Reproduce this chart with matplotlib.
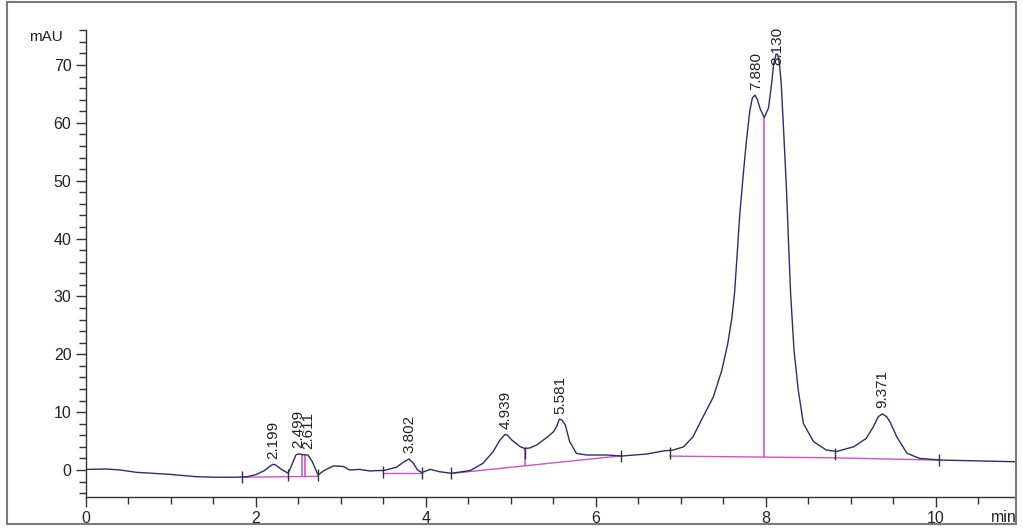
import numpy as np
import matplotlib
matplotlib.use("Agg")
from matplotlib import pyplot as plt
from matplotlib.patches import Rectangle
from matplotlib.ticker import MultipleLocator

# chromatogram trace (min, mAU)
rt = [0.00, 0.24, 0.40, 0.59, 0.98, 1.29, 1.50, 1.76, 1.90, 2.00, 2.10, 2.16,
      2.20, 2.24, 2.30, 2.38, 2.43, 2.47, 2.50, 2.55, 2.61, 2.66, 2.73, 2.80,
      2.91, 3.03, 3.10, 3.22, 3.34, 3.44, 3.50, 3.65, 3.74, 3.80, 3.85, 3.90,
      3.95, 4.05, 4.16, 4.30, 4.52, 4.67, 4.79, 4.87, 4.93, 4.96, 5.01, 5.11,
      5.16, 5.22, 5.30, 5.42, 5.50, 5.54, 5.57, 5.60, 5.64, 5.69, 5.77, 5.89,
      6.13, 6.30, 6.60, 6.79, 6.91, 7.03, 7.14, 7.26, 7.38, 7.48, 7.55, 7.60,
      7.63, 7.66, 7.69, 7.73, 7.77, 7.81, 7.84, 7.87, 7.90, 7.93, 7.98, 8.03,
      8.07, 8.09, 8.12, 8.14, 8.16, 8.18, 8.21, 8.24, 8.265, 8.29, 8.33, 8.38,
      8.44, 8.56, 8.71, 8.83, 9.03, 9.18, 9.26, 9.32, 9.37, 9.42, 9.46, 9.54,
      9.66, 9.81, 10.05, 10.40, 10.93]
mau = [0.10, 0.17, 0.00, -0.40, -0.75, -1.15, -1.25, -1.26, -1.15, -0.80, -0.10, 0.60,
       1.00, 0.80, 0.10, -0.57, 1.20, 2.60, 2.78, 2.65, 2.60, 1.50, -0.86, -0.10,
       0.70, 0.60, 0.00, 0.10, -0.17, -0.10, -0.10, 0.46, 1.40, 1.90, 1.20, 0.00,
       -0.45, 0.11, -0.30, -0.57, -0.10, 1.15, 3.16, 5.17, 6.15, 6.00, 5.17, 4.02,
       3.73, 3.80, 4.30, 5.60, 6.60, 7.60, 8.80, 8.60, 7.76, 4.90, 2.87, 2.59,
       2.59, 2.41, 2.76, 3.28, 3.45, 4.00, 5.70, 9.20, 12.6, 17.2, 21.8, 26.4,
       30.5, 37.0, 43.8, 50.6, 56.9, 62.1, 64.3, 64.8, 64.0, 62.5, 60.9, 62.6,
       67.2, 70.1, 71.9, 71.8, 70.0, 66.7, 58.0, 49.0, 39.5, 30.5, 20.7, 13.8,
       8.05, 4.90, 3.45, 3.20, 4.00, 5.46, 7.40, 9.20, 9.70, 9.20, 8.30, 5.70,
       2.87, 2.00, 1.72, 1.60, 1.43]

# integration events
base_t0 = [1.84, 3.49, 4.30, 6.87, 8.81]
base_y0 = [-1.25, -0.55, -0.60, 2.40, 2.10]
base_t1 = [2.73, 3.95, 6.30, 8.81, 10.04]
base_y1 = [-1.10, -0.55, 2.45, 2.10, 1.70]
drop_t = [2.54, 2.58, 5.16, 7.98]
drop_top = [2.70, 2.62, 3.73, 60.9]
drop_bot = [-1.20, -1.18, 0.71, 2.24]
mark_t = [1.84, 2.38, 2.73, 3.49, 3.95, 4.30, 5.16, 6.30, 6.87, 8.81, 10.04]
mark_y = [-1.2, -0.9, -0.95, -0.3, -0.5, -0.6, 2.9, 2.5, 3.0, 2.7, 1.7]

peak_rt = [2.199, 2.499, 2.611, 3.802, 4.939, 5.581, 7.880, 8.130, 9.371]
peak_h = [1.0, 2.8, 2.6, 1.9, 6.15, 8.8, 64.8, 71.9, 9.7]
peak_lbl = ["2.199", "2.499", "2.611", "3.802", "4.939", "5.581", "7.880", "8.130", "9.371"]

plt.rcParams['font.family'] = ['Liberation Sans', 'DejaVu Sans']

W, H = 1023, 530
fig = plt.figure(figsize=(W / 100, H / 100), dpi=100)
ax = fig.add_axes([86 / W, 1 - 497 / H, (1015 - 86) / W, (497 - 30) / H])

ymin, ymax = -4.67, 76.05
ax.set_xlim(0, 10.93)
ax.set_ylim(ymin, ymax)

ax.plot(rt, mau, color='#2c2c6e', lw=1.0, zorder=3)

pink = '#cc55cc'
for t0, y0, t1, y1 in zip(base_t0, base_y0, base_t1, base_y1):
    ax.plot([t0, t1], [y0, y1], color=pink, lw=1.0, zorder=2)
ax.vlines(drop_t, drop_bot, drop_top, color=pink, lw=1.2, zorder=2)
ax.plot(mark_t, mark_y, ls='none', marker='|', ms=9, mew=1.0, color='#333333', zorder=4)

for t, h, s in zip(peak_rt, peak_h, peak_lbl):
    if h + 7.5 > ymax:
        ax.text(t, ymax + 0.5, s, rotation=90, ha='center', va='top',
                fontsize=11, color='#222222', zorder=5)
    else:
        ax.annotate(s, (t, h), xytext=(0, 4), textcoords='offset points',
                    rotation=90, ha='center', va='bottom', fontsize=11,
                    color='#222222', zorder=5)

for side in ['top', 'right']:
    ax.spines[side].set_visible(False)
for side in ['left', 'bottom']:
    ax.spines[side].set_color('#333333')
    ax.spines[side].set_linewidth(1.0)

ax.xaxis.set_major_locator(MultipleLocator(2))
ax.xaxis.set_minor_locator(MultipleLocator(0.5))
ax.set_yticks(range(0, 80, 10))
ax.yaxis.set_minor_locator(MultipleLocator(2))
ax.tick_params(which='major', length=7, width=1, colors='#333333',
               labelsize=11.5, labelcolor='#222222')
ax.tick_params(which='minor', length=5, width=1, colors='#333333')
ax.tick_params(axis='x', which='both', pad=3)

fig.text(46 / W, 1 - 37 / H, "mAU", ha='center', va='center', fontsize=11, color='#222222')
fig.text(1004 / W, 1 - 517 / H, "min", ha='center', va='center', fontsize=11.5, color='#222222')

fig.patches.append(Rectangle((7 / W, 1 - 524 / H), 1009 / W, 522 / H,
                             transform=fig.transFigure, fill=False,
                             edgecolor='#7a7a7a', lw=1.5))

fig.savefig("out.png", dpi=100)
